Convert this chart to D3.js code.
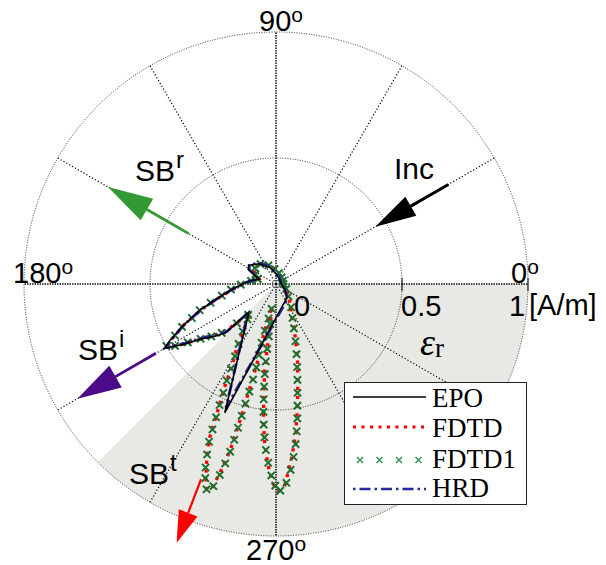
<!DOCTYPE html>
<html>
<head>
<meta charset="utf-8">
<script src="https://cdn.jsdelivr.net/npm/d3@7"></script>
<style>
body { margin: 0; background: #fff; }
</style>
</head>
<body>
<svg id="canvas"></svg>
<script>
// angles in degrees (0 = right, counter-clockwise), radius in A/m
let epoAngle = [0, 30, 60, 90, 110, 130, 145, 152, 158, 164, 170, 176, 186, 194, 199, 204, 208, 210, 213, 216, 221, 224, 226, 248.3, 308, 330, 360];
let epoR     = [.02, .02, .025, .04, .07, .105, .13, .125, .09, .07, .09, .117, .17, .242, .319, .402, .476, .51, .44, .375, .313, .28, .155, .55, .07, .04, .02];

let hrdAngle = [0, 30, 60, 90, 110, 130, 145, 152, 158, 164, 170, 176, 186, 194, 199, 204, 208, 210, 213, 216, 221, 224, 226, 248, 308, 330, 360];
let hrdR     = [.02, .02, .03, .045, .075, .11, .13, .12, .085, .07, .088, .115, .168, .24, .315, .40, .47, .505, .43, .365, .305, .27, .16, .53, .075, .04, .02];

let fdtdAngle = [0, 20, 45, 70, 90, 105, 120, 135, 148, 156, 163, 170, 176, 186, 194, 199, 204, 208, 210, 212.5, 216, 220, 223, 226, 229, 234, 238, 241, 243.6, 245.4, 246.6, 248.5, 250, 251.4, 252.5, 253.5, 254.6, 255.2, 255.8, 256.6, 256.3, 257.5, 259.5, 261.5, 262.2, 262.6, 263.8, 264.8, 266, 267.5, 269, 270.6, 272.5, 275, 277.5, 279.8, 282.5, 286.5, 291.5, 296, 305, 320, 340, 360];
let fdtdR     = [.03, .025, .03, .04, .055, .075, .095, .105, .105, .085, .07, .09, .115, .165, .24, .315, .40, .47, .50, .45, .37, .315, .27, .19, .16, .21, .29, .35, .46, .56, .66, .75, .815, .86, .855, .78, .68, .56, .44, .33, .22, .13, .09, .14, .25, .35, .45, .55, .64, .72, .79, .82, .80, .70, .60, .50, .40, .30, .20, .14, .10, .06, .04, .03];

let fdtd1Angle = [0, 25, 50, 75, 95, 112, 128, 143, 155, 165,
  173, 181, 187, 192, 196, 199, 202, 204.5, 207, 209.5,
  211.5, 213.5, 216, 219, 222, 225, 228,
  231, 235, 238, 240.5, 242, 243, 244.2, 245, 245.8, 246.4, 247, 248, 249, 250, 251.3,
  252.8, 253.6, 254.2, 254.7, 255, 255.2, 255.4, 255.7, 256.1, 256.5, 256.7, 256.5, 256.3, 256.6, 257.8, 260,
  261.8, 262.2, 262.3, 262.5, 262.9, 263.4, 263.9, 264.4, 265, 265.7, 266.5, 267.5, 268.6, 269.8, 271.2,
  273, 274.5, 275.8, 277, 278, 279, 280, 281.2, 282.6, 284.3, 286.3, 288.8, 292, 296, 303, 315, 335];
let fdtd1R = [.03, .03, .035, .045, .06, .08, .1, .105, .09, .075,
  .1, .14, .18, .22, .27, .32, .36, .41, .45, .5,
  .47, .42, .37, .33, .29, .22, .165,
  .18, .23, .28, .33, .38, .43, .48, .53, .58, .63, .68, .73, .78, .82, .86,
  .84, .79, .74, .69, .64, .59, .54, .49, .44, .39, .34, .29, .24, .19, .14, .1,
  .16, .21, .26, .31, .36, .41, .46, .51, .56, .61, .66, .71, .76, .8, .82,
  .79, .74, .69, .64, .59, .54, .49, .44, .39, .34, .29, .24, .19, .15, .11, .07, .045];

let seriesNames = ["EPO", "FDTD", "FDTD1", "HRD"];

let spokeAngles = [0, 30, 60, 90, 120, 150, 180, 210, 240, 270, 300, 330];
let ringValues = [0.5, 1];
let radialTicks = [0, 0.5, 1];
let radialLabels = ["0", "0.5", "1"];
let angleTicks = [0, 90, 180, 270];
let angleLabels = ["0", "90", "180", "270"];
let shadeAngles = [225, 360];

let arrowNames = ["Inc", "SB", "SB", "SB"];
let arrowSup = ["", "r", "i", "t"];
let arrowAngle = [30, 150, 210, 249];
let arrowFrom = [0.79, 0.40, 0.55, 0.83];
let arrowTo = [0.455, 0.77, 0.91, 1.10];

let width = 606;
let height = 565;
let cx = 276, cy = 284, R = 252;
let sans = "'Liberation Sans', Arial, Helvetica, sans-serif";
let serif = "'Liberation Serif', 'Times New Roman', serif";

let canvas = d3.select("#canvas").attr("width", width).attr("height", height);

let rScale = d3.scaleLinear().domain([0, 1]).range([0, R]);
let angleRad = (deg) => (90 - deg) * Math.PI / 180;   // d3 radial convention
let px = (deg, r) => rScale(r) * Math.cos(deg * Math.PI / 180);
let py = (deg, r) => -rScale(r) * Math.sin(deg * Math.PI / 180);

let plot = canvas.append("g").attr("transform", "translate(" + cx + "," + cy + ")");

// shaded dielectric half space
plot.append("path")
    .attr("d", d3.arc()({innerRadius: 0, outerRadius: R,
        startAngle: angleRad(shadeAngles[1]), endAngle: angleRad(shadeAngles[0])}))
    .attr("fill", "#e8e8e4");

// rings
plot.selectAll(".ring")
    .data(ringValues)
    .enter()
    .append("circle")
    .attr("r", d => rScale(d))
    .attr("fill", "none")
    .attr("stroke", "#333")
    .attr("stroke-width", 1)
    .attr("stroke-dasharray", "1,1.5");

// spokes
plot.selectAll(".spoke")
    .data(spokeAngles)
    .enter()
    .append("line")
    .attr("x1", 0).attr("y1", 0)
    .attr("x2", d => px(d, 1))
    .attr("y2", d => py(d, 1))
    .attr("stroke", "#000")
    .attr("stroke-width", d => d % 90 == 0 ? 1.4 : 1.2)
    .attr("stroke-dasharray", d => d % 90 == 0 ? "1.4,1.1" : "1.2,2.1");

// ticks on the 0 degree axis
plot.selectAll(".rtick")
    .data(ringValues)
    .enter()
    .append("line")
    .attr("x1", d => rScale(d)).attr("x2", d => rScale(d))
    .attr("y1", -6).attr("y2", 7)
    .attr("stroke", "#000")
    .attr("stroke-width", 1);

let lineOf = d3.lineRadial()
    .angle(d => angleRad(d[0]))
    .radius(d => rScale(d[1]));

// FDTD (red dotted)
plot.append("path")
    .attr("d", lineOf(d3.zip(fdtdAngle, fdtdR)))
    .attr("fill", "none")
    .attr("stroke", "#ff0000")
    .attr("stroke-width", 3.3)
    .attr("stroke-dasharray", "3.3,5.5");

// FDTD1 (green x)
plot.selectAll(".fdtd1")
    .data(d3.zip(fdtd1Angle, fdtd1R))
    .enter()
    .append("path")
    .attr("transform", d => "translate(" + px(d[0], d[1]) + "," + py(d[0], d[1]) + ")")
    .attr("d", "M-3.6,-3.6L3.6,3.6M-3.6,3.6L3.6,-3.6")
    .attr("stroke", "#1e6e2e")
    .attr("stroke-width", 2);

// HRD (blue dash-dot)
plot.append("path")
    .attr("d", lineOf(d3.zip(hrdAngle, hrdR)))
    .attr("fill", "none")
    .attr("stroke", "#2a2aa0")
    .attr("stroke-width", 2.8)
    .attr("stroke-dasharray", "11,4,2.5,4");

// EPO (black solid)
plot.append("path")
    .attr("d", lineOf(d3.zip(epoAngle, epoR)))
    .attr("fill", "none")
    .attr("stroke", "#000")
    .attr("stroke-width", 1.6);

// beam arrows
let arrowColor = ["#000000", "#339933", "#4b0a87", "#ff0000"];
let headLen = [41, 45, 44, 32];
let headHalf = [11, 12.5, 12.5, 10];
let shaftW = [3, 2.8, 2.8, 2.2];

arrowAngle.forEach((a, i) => {
    let x0 = px(a, arrowFrom[i]), y0 = py(a, arrowFrom[i]);
    let x1 = px(a, arrowTo[i]), y1 = py(a, arrowTo[i]);
    let len = Math.hypot(x1 - x0, y1 - y0);
    let ux = (x1 - x0) / len, uy = (y1 - y0) / len;
    let bx = x1 - ux * headLen[i], by = y1 - uy * headLen[i];
    plot.append("line")
        .attr("x1", x0).attr("y1", y0).attr("x2", bx).attr("y2", by)
        .attr("stroke", arrowColor[i]).attr("stroke-width", shaftW[i]);
    plot.append("path")
        .attr("d", "M" + x1 + "," + y1 +
            "L" + (bx - uy * headHalf[i]) + "," + (by + ux * headHalf[i]) +
            "L" + (bx + uy * headHalf[i]) + "," + (by - ux * headHalf[i]) + "Z")
        .attr("fill", arrowColor[i]);
});

// beam labels
let beamLabelXY = [[394, 179], [135, 181], [78, 360], [129, 484]];
arrowNames.forEach((n, i) => {
    let t = canvas.append("text")
        .attr("x", beamLabelXY[i][0]).attr("y", beamLabelXY[i][1])
        .style("font-family", sans)
        .attr("font-size", 30).attr("fill", "#000")
        .text(n);
    if (arrowSup[i]) {
        t.append("tspan").attr("dy", -13).attr("font-size", 24).attr("dx", 1).text(arrowSup[i]);
    }
});

// angle labels
let angleDx = [-17, -17, -11, -30];
let angleDy = [-1, -1, -1, 24];
angleTicks.forEach((a, i) => {
    let t = plot.append("text")
        .attr("x", px(a, 1) + angleDx[i])
        .attr("y", py(a, 1) + angleDy[i])
        .style("font-family", sans)
        .attr("font-size", 29)
        .text(angleLabels[i]);
    t.append("tspan").attr("dy", -9).attr("font-size", 21).text("o");
});

// radial labels
let radialDx = [18, -1, -19];
radialTicks.forEach((v, i) => {
    plot.append("text")
        .attr("x", rScale(v) + radialDx[i])
        .attr("y", 32)
        .style("font-family", sans)
        .attr("font-size", 29)
        .text(radialLabels[i]);
});
plot.append("text")
    .attr("x", rScale(1) + 1).attr("y", 31)
    .style("font-family", sans)
    .attr("font-size", 29)
    .text("[A/m]");

// epsilon_r
let eps = canvas.append("text")
    .attr("x", 420).attr("y", 355)
    .style("font-family", serif)
    .attr("font-size", 38)
    .style("font-style", "italic")
    .text("\u03b5");
eps.append("tspan")
    .attr("dy", 2).attr("font-size", 27).style("font-style", "normal")
    .text("r");

// legend
let legend = canvas.append("g");
legend.append("rect")
    .attr("x", 344.5).attr("y", 382.5)
    .attr("width", 182).attr("height", 122)
    .attr("fill", "#fff")
    .attr("stroke", "#222")
    .attr("stroke-width", 1);

let legY = [397, 427, 460, 489];
let legText = [407, 437, 468, 497];

legend.append("line").attr("x1", 353).attr("x2", 426).attr("y1", legY[0]).attr("y2", legY[0])
    .attr("stroke", "#000").attr("stroke-width", 1.6);
legend.append("line").attr("x1", 353).attr("x2", 428).attr("y1", legY[1]).attr("y2", legY[1])
    .attr("stroke", "#ff0000").attr("stroke-width", 3).attr("stroke-dasharray", "3,5.5");
[360, 379.5, 399, 418.5].forEach(x => {
    legend.append("path")
        .attr("transform", "translate(" + x + "," + legY[2] + ")")
        .attr("d", "M-3,-3L3,3M-3,3L3,-3")
        .attr("stroke", "#3a9a5a").attr("stroke-width", 1.6);
});
legend.append("line").attr("x1", 353).attr("x2", 426).attr("y1", legY[3]).attr("y2", legY[3])
    .attr("stroke", "#2a2aa0").attr("stroke-width", 2.4).attr("stroke-dasharray", "2.5,4,11,4");

seriesNames.forEach((n, i) => {
    legend.append("text")
        .attr("x", 432).attr("y", legText[i])
        .style("font-family", serif)
        .attr("font-size", 27)
        .text(n);
});
</script>
</body>
</html>
